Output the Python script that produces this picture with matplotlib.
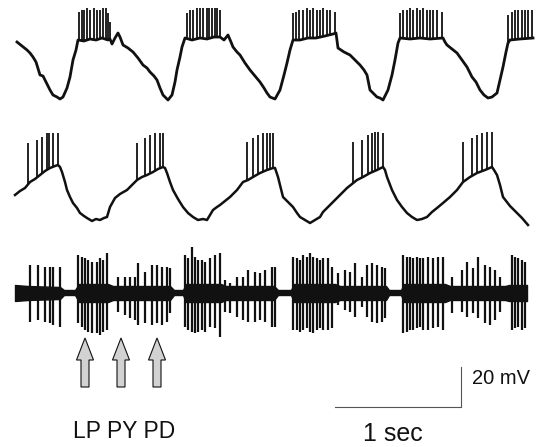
import numpy as np
import matplotlib
matplotlib.use("Agg")
from matplotlib import pyplot as plt

# --- top trace: slow wave (ms, mV) ---
t1_ms = [16, 56, 96, 120, 144, 168, 200, 224, 256, 280, 304, 336, 360, 384, 416, 440, 464, 488, 504,
         552, 600, 648, 696, 744, 760, 776, 800, 824, 840, 864, 904, 944, 984, 1024, 1056, 1080, 1112,
         1136, 1160, 1184, 1208, 1224, 1256, 1280, 1296, 1320, 1336, 1360, 1416, 1480, 1536, 1592, 1640,
         1672, 1704, 1728, 1744, 1776, 1800, 1840, 1880, 1920, 1960, 1992, 2016, 2040, 2080, 2120, 2152,
         2176, 2200, 2224, 2280, 2344, 2408, 2480, 2544, 2568, 2584, 2632, 2680, 2720, 2760, 2792, 2816,
         2840, 2872, 2896, 2920, 2944, 2984, 3016, 3040, 3064, 3080, 3160, 3240, 3320, 3424, 3440, 3456,
         3496, 3536, 3576, 3616, 3640, 3656, 3688, 3720, 3752, 3784, 3816, 3856, 3880, 3904, 3928, 3944,
         3960, 4040, 4144]
v1_mv = [-31, -33, -35, -36.5, -38.5, -41, -47.5, -48, -52, -55, -57.5, -58.5, -59.5, -58.5, -54, -48.5,
         -40, -35, -30, -30.5, -29.5, -30, -29, -30, -29.5, -32, -29, -26.5, -28.5, -32.5, -34, -36, -39,
         -42.5, -44, -46, -48, -50, -54, -57.5, -59, -60, -57.5, -51, -45, -38.5, -33.5, -29, -30, -29,
         -29.5, -28.5, -28.5, -30, -27.5, -31, -33.5, -36, -37.5, -41.5, -45, -48, -51, -54, -56.5, -58.5,
         -59.5, -55, -47.5, -41.5, -35, -30, -30, -29, -29, -28, -27, -26.5, -34, -36, -37.5, -40, -42.5,
         -45, -47.5, -55, -57, -58.5, -59, -60, -55, -47.5, -40, -31.5, -29, -29.5, -29, -29.5, -29, -31,
         -32.5, -34.5, -36.5, -40, -43.5, -46.5, -48.5, -51, -55, -57.5, -59, -58.5, -56.5, -50, -43.5,
         -36, -31.5, -30, -29.5, -29]
spk1_ms = [512, 536, 552, 576, 600, 632, 656, 680, 704, 728, 744, 760,
           1376, 1400, 1424, 1456, 1480, 1504, 1536, 1552, 1576, 1600, 1616, 1640,
           2224, 2248, 2272, 2304, 2336, 2360, 2384, 2416, 2440, 2464, 2496, 2520, 2560,
           3080, 3104, 3136, 3160, 3184, 3216, 3240, 3264, 3296, 3320, 3344, 3376, 3416,
           3944, 3976, 4000, 4024, 4056, 4080, 4104, 4136]
spk1_peak = [-16, -15, -15, -14, -15, -14, -15, -15, -14, -14, -16.5, -21,
             -16.5, -15, -15, -14, -14, -14, -14, -14, -14, -14, -14, -15,
             -16.5, -16, -15, -15, -14, -15, -14, -15, -15, -14, -15, -15, -16,
             -16.5, -15, -15, -14, -15, -14, -15, -14, -15, -15, -15, -15, -16,
             -17.5, -16, -15, -15, -15, -15, -15, -15]

# --- middle trace ---
t2_ms = [0, 40, 80, 120, 160, 200, 240, 280, 320, 344, 360, 376, 400, 416, 440, 464, 496, 520, 552, 576,
         616, 648, 680, 712, 736, 760, 800, 840, 896, 936, 976, 1016, 1056, 1104, 1144, 1184, 1200, 1216,
         1240, 1264, 1304, 1344, 1384, 1424, 1464, 1504, 1536, 1560, 1584, 1616, 1640, 1680, 1720, 1776,
         1824, 1864, 1904, 1960, 2016, 2064, 2080, 2104, 2144, 2184, 2224, 2256, 2280, 2320, 2360, 2400,
         2440, 2464, 2496, 2536, 2576, 2616, 2656, 2696, 2736, 2784, 2840, 2896, 2944, 2960, 2976, 3016,
         3056, 3096, 3136, 3176, 3216, 3256, 3296, 3336, 3376, 3424, 3480, 3536, 3584, 3640, 3696, 3760,
         3816, 3832, 3856, 3880, 3904, 3960, 4016, 4056, 4104]
v2_mv = [-47.5, -45.5, -44, -41, -39.5, -37.5, -35.5, -34, -33, -32.5, -33.5, -36, -41, -45, -48.5, -51.5,
         -54, -56.5, -58, -59, -60.5, -59.5, -60, -59, -58.5, -53.5, -49, -47, -45, -42.5, -40, -38.5,
         -37.5, -36, -34.5, -33.5, -34, -36.5, -41, -45, -49.5, -53.5, -56.5, -58.5, -60, -59.5, -60,
         -57.5, -55, -53.5, -52.5, -50.5, -48.5, -45, -41, -40, -38.5, -36.5, -35, -34, -34, -38.5, -48.5,
         -51, -53.5, -56.5, -58.5, -60, -61.5, -60, -58.5, -56, -54, -51.5, -49, -46.5, -44, -42, -40,
         -38.5, -36.5, -35, -33.5, -35, -38.5, -45, -50, -53.5, -56.5, -58.5, -60, -59.5, -58.5, -56, -54,
         -51.5, -48.5, -45, -41, -38.5, -36.5, -35, -33.5, -35, -37.5, -42.5, -48.5, -53, -56.5, -59, -62.5]
spk2_ms = [104, 176, 216, 256, 272, 304, 344,
           976, 1040, 1080, 1120, 1160, 1184,
           1856, 1904, 1944, 1984, 2016, 2040, 2064,
           2704, 2776, 2824, 2856, 2880, 2904, 2944,
           3584, 3656, 3696, 3736, 3776, 3816]
spk2_peak = [-21.5, -20, -18.5, -16.5, -16.5, -16.5, -16.5,
             -21.5, -19, -17.5, -16.5, -16.5, -16.5,
             -21, -19, -17.5, -16.5, -16.5, -16.5, -16.5,
             -21, -20, -17.5, -16.5, -16, -16, -16.5,
             -21, -19, -17.5, -16.5, -16, -16]

# --- bottom trace: extracellular nerve recording ---
band_ms = [0, 104, 360, 392, 480, 512, 744, 784, 1240, 1272, 1344, 1368, 1648, 1688, 2072, 2104, 2208,
           2232, 2560, 2600, 2968, 2992, 3088, 3112, 3440, 3480, 3920, 3952, 4096]
band_top = [3.5, 3, 2.5, 1, 1, 4, 4, 3, 3, 1, 1, 4, 4, 3, 3, 1, 1, 4, 4, 3, 3, 1,
            1, 4, 4, 3, 3, 3.5, 3.5]
band_bot = [-4.5, -4, -3.5, -1.5, -1.5, -5, -5, -4, -4, -1.5, -1.5, -5, -5, -4, -4, -1.5, -1.5, -5, -5,
            -4, -4, -1.5, -1.5, -5, -5, -4, -4, -4.5, -4.5]
unit_ms = [120, 184, 240, 280, 304, 360,
           504, 536, 560, 584, 616, 656, 680, 704, 736,
           824, 880, 920, 960, 984, 1040, 1096, 1136, 1176, 1216, 1240,
           1360, 1384, 1416, 1440, 1464, 1496, 1520, 1560, 1600, 1640,
           1680, 1720, 1776, 1824, 1864, 1920, 1960, 2000, 2056, 2080,
           2224, 2256, 2280, 2304, 2336, 2360, 2384, 2416, 2440, 2464, 2504, 2536,
           2584, 2640, 2680, 2720, 2776, 2816, 2856, 2896, 2936, 2960,
           3104, 3136, 3160, 3184, 3216, 3240, 3264, 3304, 3344, 3384, 3424,
           3496, 3576, 3616, 3664, 3704, 3760, 3800, 3840, 3880,
           3976, 4000, 4024, 4056, 4080]
unit_top = [13.5, 13.5, 12.5, 12.5, 12.5, 12.5,
            18.5, 17.5, 17, 16, 15, 15, 17, 16, 19.5,
            7.5, 7.5, 7.5, 7.5, 14.5, 10, 13.5, 13.5, 12.5, 12.5, 12,
            18.5, 17, 22.5, 17.5, 16, 16, 15, 17, 18.5, 19.5,
            6, 4.5, 7.5, 7.5, 11, 10, 9.5, 11, 12.5, 12.5,
            17.5, 17, 16, 18.5, 17.5, 19.5, 17.5, 17, 16, 17, 17, 12.5,
            9.5, 11, 10, 14.5, 7.5, 13.5, 14.5, 13.5, 12.5, 12,
            18.5, 17.5, 17.5, 17, 17.5, 17, 17, 17.5, 17, 17.5, 17.5,
            7.5, 11, 15, 12, 17.5, 13.5, 12.5, 11, 7.5,
            18.5, 17.5, 17, 16, 15]
unit_bot = [-15, -14, -15, -15.5, -16.5, -17.5,
            -15.5, -17.5, -19, -20, -20.5, -20.5, -21.5, -20, -19,
            -10, -11.5, -13, -14, -16.5, -15.5, -16.5, -15.5, -16.5, -15, -10.5,
            -17.5, -19, -20, -20.5, -20, -19, -20, -17.5, -18, -22.5,
            -10, -10.5, -12.5, -14, -15, -15, -14, -15, -17.5, -17.5,
            -19, -19, -20, -19, -18, -20, -20.5, -19, -18, -19, -19, -18,
            -6.5, -9, -10, -12.5, -7.5, -12.5, -15, -15.5, -15, -13,
            -20.5, -20, -19, -19, -18, -17.5, -19, -19, -18, -17.5, -19,
            -10.5, -10, -12.5, -10.5, -13, -15.5, -16.5, -14, -10,
            -19, -18, -17.5, -19, -18]

neuron_labels = ["LP", "PY", "PD"]
scale_sec = 1.0
scale_mv = 20

# vertical placement of each trace on the page (mV offsets)
off1, off2, off3 = 10, -50, -146

to_s = lambda ms: np.asarray(ms) / 1000.0

fig = plt.figure(figsize=(5.47, 4.47), dpi=100)
ax = fig.add_axes([0, 0, 1, 1])
ax.set_xlim(-0.12, 4.256)
ax.set_ylim(-223.5, 0)
ax.axis("off")

ink = "#111111"

# top trace
t1 = to_s(t1_ms)
ax.plot(t1, np.array(v1_mv) + off1, color=ink, lw=2.0, solid_joinstyle="round")
foot1 = np.interp(to_s(spk1_ms), t1, v1_mv)
ax.vlines(to_s(spk1_ms), foot1 + off1, np.array(spk1_peak) + off1, color=ink, lw=1.3)

# middle trace
t2 = to_s(t2_ms)
ax.plot(t2, np.array(v2_mv) + off2, color=ink, lw=1.8, solid_joinstyle="round")
foot2 = np.interp(to_s(spk2_ms), t2, v2_mv)
ax.vlines(to_s(spk2_ms), foot2 + off2, np.array(spk2_peak) + off2, color=ink, lw=1.3)

# bottom trace
ax.fill_between(to_s(band_ms), np.array(band_bot) + off3, np.array(band_top) + off3,
                color=ink, lw=1.0)
ax.vlines(to_s(unit_ms), np.array(unit_bot) + off3, np.array(unit_top) + off3, color=ink, lw=1.6)

# arrows marking LP, PY, PD units
arrow_t = [0.56, 0.848, 1.136]
for t in arrow_t:
    ax.arrow(t, -193.5, 0, 24.5, width=0.064, head_width=0.136, head_length=11,
             length_includes_head=True, fc="#d2d2d2", ec=ink, lw=0.8)
ax.text(0.464, -215.5, " ".join(neuron_labels), fontsize=16.5, family="Liberation Sans",
        va="center", ha="left", color=ink)

# scale bars
x0, y0 = 2.56, -203.5
ax.plot([x0, x0 + scale_sec], [y0, y0], color="#555555", lw=0.8)
ax.plot([x0 + scale_sec + 0.008] * 2, [y0, y0 + scale_mv], color="#555555", lw=0.8)
ax.text(3.656, -189, f"{scale_mv} mV", fontsize=14.5, family="Liberation Sans",
        va="center", ha="left", color=ink)
ax.text(3.024, -217, f"{scale_sec:.0f} sec", fontsize=18, family="Liberation Sans",
        va="center", ha="center", color=ink)

plt.savefig("out.png", dpi=100)
plt.close()
